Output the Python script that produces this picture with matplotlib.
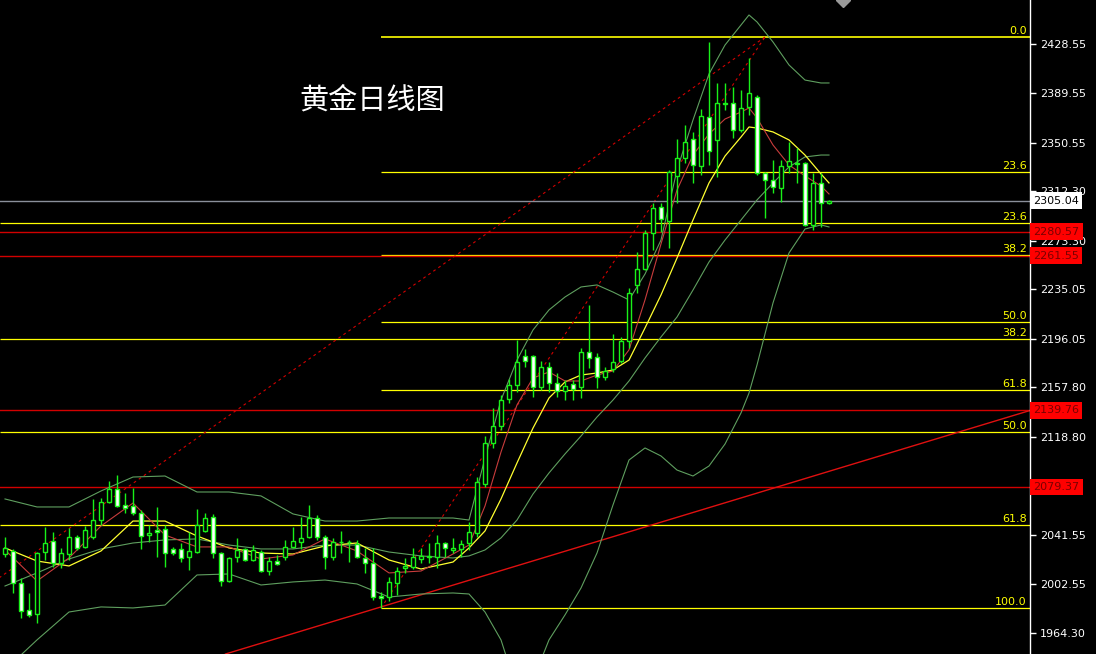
import numpy as np
import matplotlib
matplotlib.use("Agg")
import matplotlib.pyplot as plt
from matplotlib import transforms

# ---- daily candles (gold) ----
opens = [
    2026.5, 2028.9, 2003.7, 1982.4, 1979.3, 2028.1, 2036.8, 2019.4, 2026.5, 2039.9,
    2032.1, 2039.9, 2053.3, 2067.5, 2077.8, 2065.2, 2064.4, 2058.9, 2041.5, 2045.5,
    2046.2, 2030.5, 2030.5, 2024.2, 2028.1, 2044.7, 2055.7, 2027.3, 2005.3, 2024.2,
    2030.5, 2021.8, 2028.1, 2013.1, 2021.0, 2024.2, 2032.1, 2036.0, 2039.9, 2054.9,
    2039.9, 2024.2, 2035.8, 2036.0, 2034.4, 2023.4, 2019.4, 1993.4, 1992.6, 2003.7,
    2015.5, 2016.3, 2022.6, 2024.2, 2024.2, 2035.2, 2029.7, 2030.5, 2035.2, 2043.1,
    2081.7, 2114.0, 2127.4, 2148.7, 2159.7, 2182.6, 2182.6, 2158.2, 2173.9, 2161.3,
    2155.0, 2160.5, 2158.2, 2185.8, 2181.8, 2166.1, 2172.4, 2178.7, 2194.4, 2238.6,
    2251.2, 2279.6, 2300.0, 2289.0, 2324.5, 2338.7, 2353.6, 2332.4, 2371.0, 2352.9,
    2382.0, 2382.0, 2360.7, 2378.9, 2386.7, 2326.8, 2321.3, 2315.0, 2332.4, 2334.7,
    2334.7, 2285.9, 2319.0, 2303.2]
highs = [
    2039.9, 2030.5, 2007.6, 1995.8, 2028.1, 2047.8, 2043.9, 2031.3, 2047.0, 2041.5,
    2048.6, 2069.9, 2070.7, 2084.1, 2088.8, 2074.6, 2078.6, 2061.2, 2049.4, 2063.6,
    2049.4, 2032.1, 2035.2, 2043.9, 2062.0, 2058.9, 2058.1, 2028.1, 2024.2, 2039.2,
    2031.3, 2033.6, 2029.7, 2024.2, 2025.8, 2037.6, 2047.8, 2055.7, 2065.2, 2057.3,
    2041.5, 2039.2, 2044.7, 2037.6, 2037.6, 2031.3, 2031.3, 1996.6, 2008.4, 2016.3,
    2023.4, 2031.3, 2031.3, 2035.2, 2041.5, 2036.0, 2039.2, 2037.6, 2051.8, 2087.2,
    2119.5, 2141.6, 2151.9, 2164.5, 2195.2, 2188.1, 2183.4, 2178.7, 2177.9, 2169.2,
    2163.7, 2163.7, 2188.9, 2222.8, 2185.0, 2173.9, 2199.9, 2197.6, 2236.2, 2264.6,
    2281.9, 2303.2, 2303.2, 2329.2, 2353.6, 2364.7, 2359.2, 2377.3, 2430.1, 2397.8,
    2397.8, 2394.6, 2392.3, 2417.5, 2388.3, 2327.6, 2337.1, 2337.1, 2351.3, 2346.6,
    2335.5, 2326.8, 2326.8, 2305.6]
lows = [
    2024.2, 1995.8, 1976.1, 1976.9, 1972.2, 2021.8, 2016.3, 2015.5, 2021.8, 2029.7,
    2031.3, 2038.4, 2049.4, 2066.7, 2063.6, 2058.9, 2057.3, 2030.5, 2036.0, 2024.2,
    2016.3, 2025.8, 2020.2, 2013.9, 2027.3, 2043.9, 2023.4, 2001.3, 2004.5, 2020.2,
    2021.0, 2021.0, 2012.4, 2010.0, 2017.9, 2021.8, 2031.3, 2030.5, 2039.2, 2037.6,
    2014.7, 2021.8, 2027.3, 2020.2, 2023.4, 2011.6, 1990.3, 1984.0, 1989.5, 1994.2,
    2011.6, 2014.7, 2019.4, 2019.4, 2015.5, 2024.2, 2027.3, 2024.2, 2029.7, 2039.9,
    2079.4, 2110.1, 2124.3, 2145.6, 2154.2, 2173.9, 2150.3, 2155.8, 2154.2, 2150.3,
    2147.9, 2147.9, 2149.5, 2173.1, 2157.4, 2163.7, 2170.0, 2177.1, 2188.9, 2232.3,
    2250.4, 2266.2, 2280.3, 2267.7, 2303.2, 2334.7, 2319.0, 2325.3, 2333.2, 2323.7,
    2376.5, 2354.4, 2359.2, 2372.6, 2325.3, 2291.4, 2311.1, 2304.0, 2326.8, 2319.0,
    2285.1, 2281.9, 2284.3, 2302.4]
closes = [
    2031.3, 2003.7, 1981.6, 1978.5, 2027.3, 2035.2, 2019.4, 2027.3, 2039.9, 2031.3,
    2045.5, 2053.3, 2067.5, 2077.8, 2064.4, 2062.8, 2058.9, 2040.7, 2043.1, 2043.9,
    2027.3, 2027.3, 2023.4, 2028.9, 2049.4, 2054.9, 2027.3, 2005.3, 2023.4, 2029.7,
    2021.8, 2029.7, 2013.1, 2021.0, 2018.7, 2032.1, 2036.8, 2039.2, 2054.9, 2039.9,
    2024.2, 2036.0, 2036.0, 2035.6, 2024.2, 2019.4, 1992.6, 1991.9, 2004.5, 2013.1,
    2017.1, 2024.2, 2025.0, 2025.0, 2035.2, 2031.3, 2031.3, 2034.4, 2043.9, 2083.3,
    2114.0, 2127.4, 2147.9, 2159.7, 2177.9, 2178.7, 2158.2, 2173.9, 2161.3, 2155.0,
    2159.0, 2156.6, 2185.8, 2181.0, 2166.1, 2170.8, 2177.9, 2194.4, 2232.3, 2251.2,
    2279.6, 2299.3, 2290.6, 2327.6, 2338.7, 2351.3, 2333.2, 2371.8, 2344.2, 2382.0,
    2381.6, 2360.7, 2378.1, 2389.9, 2326.8, 2321.3, 2315.8, 2332.4, 2336.3, 2334.3,
    2285.9, 2319.0, 2303.2, 2305.04]

# ---- indicator lines, sampled off the chart at these candle numbers ----
ind_idx = [0, 4, 8, 12, 16, 20, 24, 28, 32, 36, 40, 44, 48, 52, 56, 58,
           60, 62, 64, 66, 68, 70, 72, 74, 76, 78, 80, 82, 84, 86, 88, 90,
           92, 93, 94, 96, 98, 100, 102, 103]
ma5 = [2029.7, 2005.3, 2023.4, 2048.6, 2066.7, 2041.5, 2032.1, 2032.1, 2022.6, 2025.8,
       2038.4, 2028.9, 2011.6, 2013.1, 2026.5, 2033.6,
       2064.4, 2106.9, 2144.0, 2165.3, 2170.0, 2162.9, 2162.9, 2167.6, 2170.8, 2187.4,
       2226.8, 2270.9, 2313.4, 2341.0, 2357.6, 2369.4, 2374.9, 2378.1, 2370.2, 2348.9,
       2333.2, 2324.5, 2316.6, 2310.3]
ma10 = [2031.3, 2021.0, 2017.1, 2028.9, 2052.5, 2052.5, 2040.7, 2031.3, 2027.3, 2026.5,
        2032.9, 2035.2, 2021.8, 2014.7, 2020.2, 2031.3,
        2044.7, 2069.9, 2098.3, 2125.8, 2149.5, 2162.1, 2167.6, 2169.2, 2171.6, 2179.4,
        2204.7, 2230.7, 2259.8, 2289.8, 2319.0, 2340.2, 2355.2, 2363.1, 2362.3, 2359.2,
        2352.9, 2341.0, 2326.1, 2319.0]
bb_mid = [2001.3, 2011.6, 2022.6, 2030.5, 2035.2, 2037.6, 2038.4, 2033.6, 2030.5, 2030.5,
          2033.6, 2033.6, 2028.1, 2025.0, 2023.4, 2025.0,
          2029.7, 2039.2, 2053.3, 2073.8, 2090.4, 2105.4, 2119.5, 2134.5, 2147.9, 2162.9,
          2181.0, 2197.6, 2213.3, 2234.6, 2256.7, 2274.0, 2289.8, 2297.7, 2305.6, 2319.0,
          2331.6, 2339.5, 2341.0, 2341.0]
bb_up = [2069.9, 2063.6, 2063.6, 2076.2, 2087.2, 2088.0, 2075.4, 2075.4, 2072.3, 2058.1,
         2052.5, 2052.5, 2054.9, 2054.9, 2054.9, 2053.3,
         2102.2, 2147.9, 2179.4, 2203.1, 2218.9, 2229.1, 2237.0, 2238.6, 2233.0, 2226.8,
         2247.2, 2274.0, 2329.2, 2368.6, 2404.9, 2427.7, 2443.5, 2451.4, 2445.9, 2430.1,
         2412.0, 2400.1, 2397.8, 2397.8]
bb_low = [1935.1, 1958.8, 1980.8, 1984.8, 1984.0, 1986.3, 2010.0, 2010.8, 2002.1, 2004.5,
          2006.0, 2002.9, 1992.6, 1995.0, 1995.8, 1995.0,
          1980.8, 1958.8, 1919.4, 1927.2, 1958.8, 1978.5, 1999.7, 2027.3, 2065.2, 2100.6,
          2110.1, 2103.8, 2092.7, 2088.0, 2095.9, 2113.2, 2137.7, 2153.4, 2175.5, 2224.4,
          2263.8, 2282.7, 2285.9, 2284.3]

# ---- fibonacci retracements ----
fib_top = 2434.0
fib_a_low = 1984.0       # swing low at candle 47
fib_b_low = 1811.5       # swing low off screen
fib_a_levels = ["23.6", "38.2", "50.0", "61.8", "100.0"]
fib_b_levels = ["23.6", "38.2", "50.0", "61.8"]
fib_a_start = 47
fib_top_idx = 95
fib_b_start = -44.8

# ---- support / resistance lines and current price ----
red_levels = [2280.57, 2261.55, 2139.76, 2079.37]
last_price = 2305.04
trend_pts = [(56.9, 2003.7), (128.1, 2139.6)]

# 2080.05 sits under the 2079.37 box on the chart, so it is left out
tick_values = [2428.55, 2389.55, 2350.55, 2312.30, 2273.30, 2235.05, 2196.05,
               2157.80, 2118.80, 2041.55, 2002.55, 1964.30]

title = "黄金日线图"

GREEN = "#19f019"
YELLOW = "#ffff00"
RED = "#d20000"
BAND = "#5f9f5f"


def fib_price(low, pct):
    return fib_top - float(pct) / 100.0 * (fib_top - low)


def main():
    fig = plt.figure(figsize=(10.96, 6.54), dpi=100, facecolor="black")
    ax = fig.add_axes([0, 0, 1030 / 1096, 1])
    ax.set_facecolor("black")

    xmin, xmax = -0.625, 128.125
    ax.set_xlim(xmin, xmax)
    ax.set_ylim(1947.7, 2463.2)

    # horizontal fib lines
    lab_tr = transforms.blended_transform_factory(ax.transAxes, ax.transData)
    ax.hlines(fib_top, fib_a_start, xmax, color=YELLOW, lw=1.2, zorder=1)
    ax.text(0.997, fib_top + 0.8, "0.0", transform=lab_tr, ha="right", va="bottom",
            color=YELLOW, fontsize=8)
    for lv in fib_a_levels:
        p = fib_price(fib_a_low, lv)
        ax.hlines(p, fib_a_start, xmax, color=YELLOW, lw=0.9, zorder=1)
        ax.text(0.997, p + 0.8, lv, transform=lab_tr, ha="right", va="bottom",
                color=YELLOW, fontsize=8)
    for lv in fib_b_levels:
        p = fib_price(fib_b_low, lv)
        ax.hlines(p, xmin, xmax, color=YELLOW, lw=0.9, zorder=1)
        ax.text(0.997, p + 0.8, lv, transform=lab_tr, ha="right", va="bottom",
                color=YELLOW, fontsize=8)

    # fib dashed diagonals
    ax.plot([fib_a_start, fib_top_idx], [fib_a_low, fib_top], color=RED, lw=0.8,
            dashes=(2.5, 3), zorder=1)
    ax.plot([fib_b_start, fib_top_idx], [fib_b_low, fib_top], color=RED, lw=0.8,
            dashes=(2.5, 3), zorder=1)

    # red support lines, trendline, price line
    for p in red_levels:
        ax.axhline(p, color=RED, lw=1, zorder=1)
    ax.axline(trend_pts[0], trend_pts[1], color="#e01010", lw=1, zorder=1)
    ax.axhline(last_price, color="#8a8f9a", lw=1, zorder=1)

    # indicators
    ax.plot(ind_idx, bb_up, color=BAND, lw=0.8, zorder=2)
    ax.plot(ind_idx, bb_mid, color=BAND, lw=0.8, zorder=2)
    ax.plot(ind_idx, bb_low, color=BAND, lw=0.8, zorder=2)
    ax.plot(ind_idx, ma10, color="#ffff30", lw=0.9, zorder=2)
    ax.plot(ind_idx, ma5, color="#c83c3c", lw=0.8, zorder=2)

    # candles
    o = np.array(opens)
    c = np.array(closes)
    x = np.arange(len(o))
    ax.vlines(x, lows, highs, color=GREEN, lw=1, zorder=3)
    fills = np.where(c >= o, "black", "white")
    ax.bar(x, np.abs(c - o), bottom=np.minimum(o, c), width=0.62, color=fills,
           edgecolor=GREEN, linewidth=1, zorder=4)

    # small chart-shift marker at top
    ax.plot(104.75, 2463.2, marker="D", ms=7, color="#9a9a9a", zorder=5)

    ax.text(0.291, 0.847, title, transform=ax.transAxes, ha="left", va="center",
            color="white", fontsize=21, family=["Noto Sans CJK SC", "DejaVu Sans"])

    # right price scale
    for side in ["top", "left", "bottom"]:
        ax.spines[side].set_visible(False)
    ax.spines["right"].set_color("white")
    ax.spines["right"].set_linewidth(1)
    ax.yaxis.tick_right()
    ax.set_yticks(tick_values)
    ax.set_yticklabels([f"{v:.2f}" for v in tick_values])
    ax.tick_params(axis="y", colors="white", length=4, width=1, labelsize=8, pad=3)
    ax.set_xticks([])

    box_x = 1.003
    ax.text(box_x, last_price, f"{last_price:.2f}", transform=lab_tr, ha="left",
            va="center", fontsize=8, color="black", zorder=6,
            bbox=dict(boxstyle="square,pad=0.3", fc="white", ec="none"))
    for p in red_levels:
        ax.text(box_x, p, f"{p:.2f}", transform=lab_tr, ha="left", va="center",
                fontsize=8, color="#7a0000", zorder=6,
                bbox=dict(boxstyle="square,pad=0.3", fc="#ff0000", ec="none"))

    fig.savefig("out.png", dpi=100, facecolor="black")


if __name__ == "__main__":
    main()
